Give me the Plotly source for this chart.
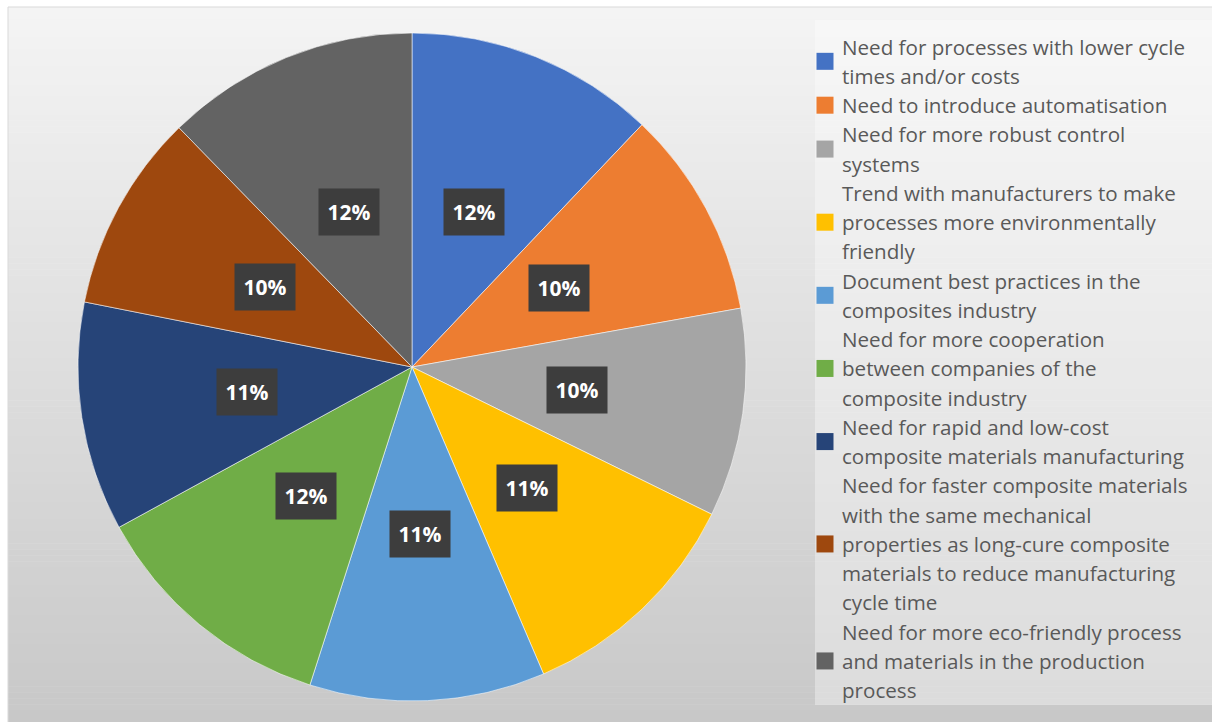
import math
import plotly.graph_objects as go

# Survey shares per driver (percent of responses)
categories = [
    "Need for processes with lower cycle times and/or costs",
    "Need to introduce automatisation",
    "Need for more robust control systems",
    "Trend with manufacturers to make processes more environmentally friendly",
    "Document best practices in the composites industry",
    "Need for more cooperation between companies of the composite industry",
    "Need for rapid and low-cost composite materials manufacturing",
    "Need for faster composite materials with the same mechanical properties as long-cure composite materials to reduce manufacturing cycle time",
    "Need for more eco-friendly process and materials in the production process",
]
shares = [12.1, 10.1, 10.1, 11.3, 11.4, 12.1, 11.1, 9.6, 12.3]
colors = ["#4472C4", "#ED7D31", "#A5A5A5", "#FFC000", "#5B9BD5",
          "#70AD47", "#264478", "#9E480E", "#636363"]

# Wrapped legend lines for each category
legend_lines = [
    ["Need for processes with lower cycle", "times and/or costs"],
    ["Need to introduce automatisation"],
    ["Need for more robust control", "systems"],
    ["Trend with manufacturers to make", "processes more environmentally", "friendly"],
    ["Document best practices in the", "composites industry"],
    ["Need for more cooperation", "between companies of the", "composite industry"],
    ["Need for rapid and low-cost", "composite materials manufacturing"],
    ["Need for faster composite materials", "with the same mechanical",
     "properties as long-cure composite", "materials to reduce manufacturing", "cycle time"],
    ["Need for more eco-friendly process", "and materials in the production", "process"],
]

W, H = 1212, 722
FONT = "Open Sans"

# Pie placement in pixels
cx_px, cy_px, r_px = 412, 367, 334
dom_x = [(cx_px - r_px) / W, (cx_px + r_px) / W]
dom_y = [1 - (cy_px + r_px) / H, 1 - (cy_px - r_px) / H]

fig = go.Figure()
fig.add_trace(go.Pie(
    labels=categories,
    values=shares,
    sort=False,
    direction="clockwise",
    rotation=0,
    marker=dict(colors=colors, line=dict(color="rgba(255,255,255,0.55)", width=1)),
    textinfo="none",
    hoverinfo="label+percent",
    showlegend=False,
    domain=dict(x=dom_x, y=dom_y),
))

shapes = []
# Chart-area background: vertical grey gradient
x0_bg, y0_bg = 8, 7
n_bands = 120
top_c, bot_c = 244, 200
for i in range(n_bands):
    t = i / (n_bands - 1)
    g = round(top_c + (bot_c - top_c) * t)
    ya = y0_bg + (H - y0_bg) * i / n_bands
    yb = y0_bg + (H - y0_bg) * (i + 1) / n_bands + 0.6
    shapes.append(dict(type="rect", xref="paper", yref="paper", layer="below",
                       x0=x0_bg / W, x1=1, y0=1 - yb / H, y1=1 - ya / H,
                       fillcolor=f"rgb({g},{g},{g})", line=dict(width=0)))
# Chart-area border
shapes.append(dict(type="rect", xref="paper", yref="paper", layer="below",
                   x0=x0_bg / W, x1=1.01, y0=-0.01, y1=1 - y0_bg / H,
                   fillcolor="rgba(0,0,0,0)", line=dict(color="#d9d9d9", width=1)))
# Legend panel
shapes.append(dict(type="rect", xref="paper", yref="paper", layer="below",
                   x0=815 / W, x1=1, y0=1 - 705 / H, y1=1 - 20 / H,
                   fillcolor="rgba(255,255,255,0.35)", line=dict(width=0)))

annotations = []

# Percentage labels placed halfway along each slice's bisector
total = sum(shares)
acc = 0.0
for v in shares:
    mid = (acc + v / 2) / total * 2 * math.pi
    acc += v
    px = cx_px + 0.5 * r_px * math.sin(mid)
    py = cy_px - 0.5 * r_px * math.cos(mid)
    annotations.append(dict(
        x=px / W, y=1 - py / H, xref="paper", yref="paper",
        text=f"<b>{round(v / total * 100)}%</b>", showarrow=False,
        font=dict(family=FONT, size=21, color="white"),
        bgcolor="#3d3d3d", width=58, height=44, align="center", valign="middle",
        xanchor="center", yanchor="middle",
    ))

# Legend built from wrapped lines with swatches
line_y0, line_step = 46.7, 29.25
text_x, sw_x, sw = 840, 825, 17
k = 0
for lines, col in zip(legend_lines, colors):
    first = k
    for ln in lines:
        y = line_y0 + line_step * k
        annotations.append(dict(
            x=text_x / W, y=1 - y / H, xref="paper", yref="paper",
            text=ln, showarrow=False, xanchor="left", yanchor="middle",
            font=dict(family=FONT, size=20.6, color="#595959"),
        ))
        k += 1
    ymid = line_y0 + line_step * (first + k - 1) / 2
    shapes.append(dict(type="rect", xref="paper", yref="paper",
                       x0=(sw_x - sw / 2) / W, x1=(sw_x + sw / 2) / W,
                       y0=1 - (ymid + sw / 2) / H, y1=1 - (ymid - sw / 2) / H,
                       fillcolor=col, line=dict(width=0)))

fig.update_layout(
    width=W, height=H,
    margin=dict(l=0, r=0, t=0, b=0),
    paper_bgcolor="white",
    plot_bgcolor="white",
    shapes=shapes,
    annotations=annotations,
    font=dict(family=FONT),
)

fig.write_html("out.html")
